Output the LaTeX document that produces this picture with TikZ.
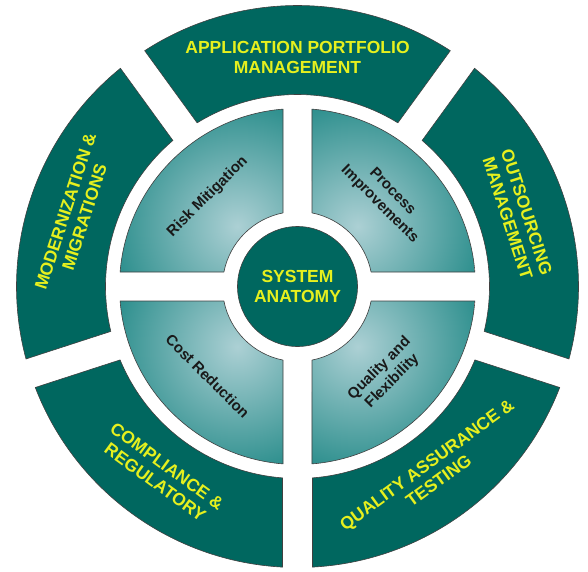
\documentclass[tikz,border=0pt]{standalone}
\usepackage{fontspec}
\setmainfont{Liberation Sans}
\definecolor{ringteal}{RGB}{0,103,95}
\definecolor{quaddark}{RGB}{16,128,125}
\definecolor{quadlight}{RGB}{172,208,212}
\definecolor{labelyellow}{RGB}{230,240,30}
\tikzset{
  segment/.style = {fill=ringteal, draw=black!75, line width=0.6pt},
  quadedge/.style = {draw=black!75, line width=0.6pt},
  ringlabel/.style = {text=labelyellow, font=\bfseries\fontsize{17.5}{20}\selectfont, align=center},
  quadlabel/.style = {text=black!90, font=\bfseries\fontsize{15}{18}\selectfont, align=center},
  quadrant/.style = {insert path={
    ({#1-45+asin(14.5/178)}:178pt) arc[start angle={#1-45+asin(14.5/178)}, end angle={#1+45-asin(14.5/178)}, radius=178pt]
    -- ({#1+45-asin(14.5/75)}:75pt) arc[start angle={#1+45-asin(14.5/75)}, end angle={#1-45+asin(14.5/75)}, radius=75pt]
    -- cycle}}
}

\begin{document}
\begin{tikzpicture}[x=1pt, y=1pt]
  \useasboundingbox (-297.5,-284.5) rectangle (290.5,286.5);
  % outer ring, five segments
  \foreach \mid in {90,18,-54,-126,162}
    \draw[segment] ({\mid-36+asin(15/281)}:281pt)
      arc[start angle={\mid-36+asin(15/281)}, end angle={\mid+36-asin(15/281)}, radius=281pt]
      -- ({\mid+36-asin(15/192)}:192pt)
      arc[start angle={\mid+36-asin(15/192)}, end angle={\mid-36+asin(15/192)}, radius=192pt]
      -- cycle;
  % inner quadrants
  \foreach \mid in {45,135,-45,-135} {
    \begin{scope}
      \clip[quadrant=\mid];
      \shade[inner color=quadlight, outer color=quaddark] (\mid:85pt) circle (155pt);
    \end{scope}
    \path[quadedge, quadrant=\mid];
  }
  \node[circle, fill=ringteal, draw=black!75, line width=0.6pt, minimum size=120pt, ringlabel] (hub) at (0,0) {SYSTEM\\ANATOMY};

  \node[ringlabel] (apm) at (90:229pt) {APPLICATION PORTFOLIO\\MANAGEMENT};
  \node[ringlabel, rotate=-72] (outs) at (18:231pt) {OUTSOURCING\\MANAGEMENT};
  \node[ringlabel, rotate=36] (qat) at (-54:230pt) {QUALITY ASSURANCE \&\\TESTING};
  \node[ringlabel, rotate=-36] (comp) at (-126:232pt) {COMPLIANCE \&\\REGULATORY};
  \node[ringlabel, rotate=72] (modm) at (162:234pt) {MODERNIZATION \&\\MIGRATIONS};

  \node[quadlabel, rotate=45] (risk) at (135:127pt) {Risk Mitigation};
  \node[quadlabel, rotate=-45] (proc) at (45:125pt) {Process\\Improvements};
  \node[quadlabel, rotate=45] (qual) at (-45:125pt) {Quality and\\Flexibility};
  \node[quadlabel, rotate=-45] (cost) at (-135:127pt) {Cost Reduction};
\end{tikzpicture}
\end{document}
